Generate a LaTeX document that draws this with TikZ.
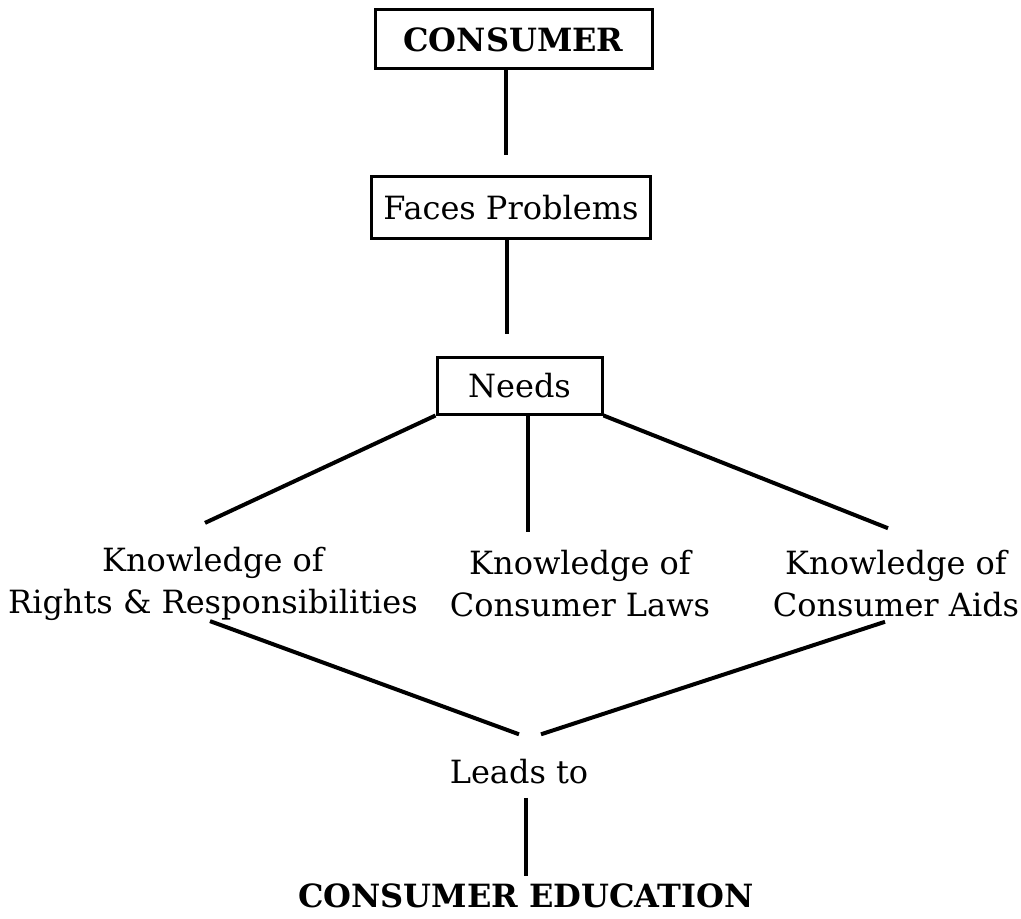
\documentclass[tikz,border=0pt]{standalone}
\usepackage{fontspec}
\setmainfont{DejaVu Serif}

\tikzset{
  box/.style={draw, line width=1.5pt, inner sep=0pt, font=\fontsize{16}{21}\selectfont},
  txt/.style={inner sep=0pt, align=center, font=\fontsize{16}{21}\selectfont},
  link/.style={line width=2pt},
}

\begin{document}
\begin{tikzpicture}[x=0.5pt,y=-0.5pt]
\useasboundingbox (0,0) rectangle (1021,919);

% boxes down the middle
\node[box, minimum width=138.5pt, minimum height=29.5pt, font=\fontsize{16}{21}\selectfont\bfseries] (consumer) at (513.5,39.5) {CONSUMER};
\node[box, minimum width=139.5pt, minimum height=31pt] (faces) at (511,208) {Faces Problems};
\node[box, minimum width=82.5pt, minimum height=28.5pt] (needs) at (519.5,385.5) {Needs};

% the three kinds of knowledge
\node[txt] (rights) at (213,584) {Knowledge of\\Rights \& Responsibilities};
\node[txt] (laws) at (580,584) {Knowledge of\\Consumer Laws};
\node[txt] (aids) at (896,584) {Knowledge of\\Consumer Aids};

\node[txt, anchor=base] (leads) at (519,783) {Leads to};
\node[txt, anchor=base, font=\fontsize{16}{21}\selectfont\bfseries] (edu) at (526,907) {CONSUMER EDUCATION};

\draw[link] ([xshift=-4pt]consumer.south) -- ([xshift=-4pt,yshift=10pt]consumer.south |- faces.north);
\draw[link] ([xshift=-2pt]faces.south) -- ([xshift=-2pt,yshift=11pt]faces.south |- needs.north);

\draw[link] (needs.south west) -- ([xshift=-4pt,yshift=12pt]rights.north);
\draw[link] ([xshift=4pt]needs.south) -- ([xshift=4pt,yshift=9pt]needs.south |- laws.north);
\draw[link] (needs.south east) -- ([xshift=-4pt,yshift=11pt]aids.north);

\draw[link] ([xshift=-1.5pt]rights.south) -- ([yshift=12pt]leads.north);
\draw[link] ([xshift=-5.5pt,yshift=-2pt]aids.south) -- ([xshift=11pt,yshift=12pt]leads.north);
\draw[link] ([yshift=-7pt]leads.south -| edu.north) -- ([yshift=3.5pt]edu.north);

\end{tikzpicture}
\end{document}
